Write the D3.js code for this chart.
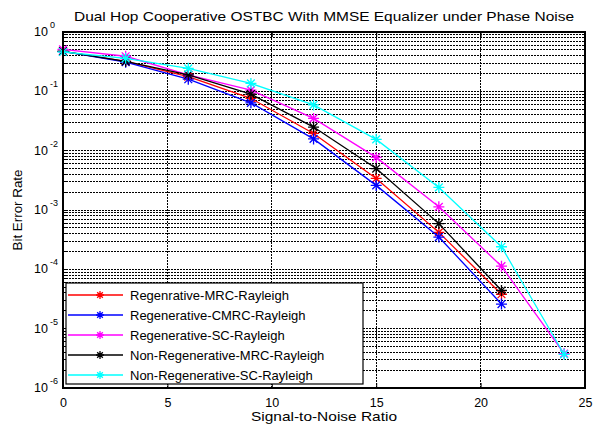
<!DOCTYPE html>
<html>
<head>
<meta charset="utf-8">
<script src="https://cdn.jsdelivr.net/npm/d3@7"></script>
<style>
  html, body { margin: 0; padding: 0; background: #fff; }
  svg { display: block; font-family: Arial, "Liberation Sans", sans-serif; }
</style>
</head>
<body>
<svg id="chart" width="595" height="427"></svg>
<script>
// ---- data ----
const title = "Dual Hop Cooperative OSTBC With MMSE Equalizer under Phase Noise";
const xLabel = "Signal-to-Noise Ratio";
const yLabel = "Bit Error Rate";
const xTicks = [0, 5, 10, 15, 20, 25];
const yExponents = [0, -1, -2, -3, -4, -5, -6];

const snr = [0, 3, 6, 9, 12, 15, 18, 21];
const snrSC = [0, 3, 6, 9, 12, 15, 18, 21, 24];

const regMRC    = [0.47, 0.32, 0.177, 0.076, 0.0195, 0.0034, 0.00042, 3.8e-5];
const regCMRC   = [0.47, 0.31, 0.160, 0.064, 0.0158, 0.0026, 0.00035, 2.6e-5];
const regSC     = [0.51, 0.39, 0.190, 0.105, 0.035, 0.0077, 0.00113, 0.000113, 3.8e-6];
const nonRegMRC = [0.47, 0.32, 0.190, 0.090, 0.025, 0.0050, 0.00059, 4.4e-5];
const nonRegSC  = [0.46, 0.36, 0.244, 0.136, 0.059, 0.0155, 0.0024, 0.00024, 3.7e-6];

const seriesNames = [
  "Regenrative-MRC-Rayleigh",
  "Regenerative-CMRC-Rayleigh",
  "Regenerative-SC-Rayleigh",
  "Non-Regenerative-MRC-Rayleigh",
  "Non-Regenerative-SC-Rayleigh"
];
const seriesColors = ["#ff0000", "#0000ff", "#ff00ff", "#000000", "#00ffff"];
const seriesX = [snr, snr, snrSC, snr, snrSC];
const seriesY = [regMRC, regCMRC, regSC, nonRegMRC, nonRegSC];

// ---- layout ----
const L = 63, R = 585, T = 32, B = 388;
const svg = d3.select("#chart");

const x = d3.scaleLinear().domain([0, 25]).range([L, R]);
const y = d3.scaleLog().domain([1e-6, 1]).range([B, T]);

// grid
const grid = svg.append("g");
const minorVals = [];
for (let e = -6; e < 0; e++) {
  for (let m = 1; m <= 9; m++) minorVals.push(m * Math.pow(10, e));
}
minorVals.push(1);
grid.selectAll("line.h").data(minorVals.filter(v => v > 1e-6 && v < 1)).enter()
  .append("line")
  .attr("x1", L).attr("x2", R)
  .attr("y1", d => y(d)).attr("y2", d => y(d))
  .attr("stroke", "#000").attr("stroke-width", 1)
  .attr("stroke-dasharray", "2,1")
  .attr("shape-rendering", "crispEdges");
grid.selectAll("line.v").data(xTicks.filter(v => v > 0 && v < 25)).enter()
  .append("line")
  .attr("y1", T).attr("y2", B)
  .attr("x1", d => x(d)).attr("x2", d => x(d))
  .attr("stroke", "#000").attr("stroke-width", 1)
  .attr("stroke-dasharray", "2,1")
  .attr("shape-rendering", "crispEdges");

// axes with inward ticks
const axB = d3.axisBottom(x).tickValues(xTicks).tickSize(-5).tickPadding(10).tickFormat(d3.format("d"));
const gB = svg.append("g").attr("transform", `translate(0,${B})`).call(axB);
gB.select(".domain").remove();
gB.selectAll("text").attr("font-size", 12.5).attr("font-family", "Arial, 'Liberation Sans', sans-serif").attr("fill", "#000");

const axT = d3.axisTop(x).tickValues(xTicks).tickSize(-5).tickFormat("");
const gT = svg.append("g").attr("transform", `translate(0,${T})`).call(axT);
gT.select(".domain").remove();

const majorVals = yExponents.map(e => Math.pow(10, e));
const minorOnly = minorVals.filter(v => !majorVals.some(m => Math.abs(Math.log10(v) - Math.log10(m)) < 1e-9));

[[L, 1], [R, -1]].forEach(([px, dir]) => {
  const g = svg.append("g");
  g.selectAll("line.maj").data(majorVals).enter().append("line")
    .attr("x1", px).attr("x2", px + dir * 5)
    .attr("y1", d => y(d)).attr("y2", d => y(d))
    .attr("stroke", "#000").attr("shape-rendering", "crispEdges");
  g.selectAll("line.min").data(minorOnly).enter().append("line")
    .attr("x1", px).attr("x2", px + dir * 3)
    .attr("y1", d => y(d)).attr("y2", d => y(d))
    .attr("stroke", "#000").attr("shape-rendering", "crispEdges");
});

// y tick labels 10^e
const yl = svg.append("g");
yExponents.forEach(e => {
  yl.append("text")
    .attr("x", 48).attr("y", y(Math.pow(10, e)) + 4)
    .attr("text-anchor", "end").attr("font-size", 12.5).attr("fill", "#000")
    .text("10");
  yl.append("text")
    .attr("x", 50).attr("y", y(Math.pow(10, e)) - 4)
    .attr("text-anchor", "start").attr("font-size", 9).attr("fill", "#000")
    .text(e === 0 ? "0" : String(e));
});

// series lines and markers
const line = d3.line().x(d => x(d[0])).y(d => y(d[1]));
function asterisk(g, cx, cy, s, color) {
  const d = s * 0.7071;
  const p = `M${cx - s},${cy}L${cx + s},${cy}M${cx},${cy - s}L${cx},${cy + s}` +
            `M${cx - d},${cy - d}L${cx + d},${cy + d}M${cx - d},${cy + d}L${cx + d},${cy - d}`;
  g.append("path").attr("d", p).attr("stroke", color).attr("stroke-width", 1.3).attr("fill", "none");
}
const plot = svg.append("g");
seriesNames.forEach((name, i) => {
  const pts = seriesX[i].map((xv, j) => [xv, seriesY[i][j]]);
  plot.append("path").datum(pts)
    .attr("d", line).attr("fill", "none")
    .attr("stroke", seriesColors[i]).attr("stroke-width", 1.3);
  pts.forEach(p => asterisk(plot, x(p[0]), y(p[1]), 5.5, seriesColors[i]));
});

// axes box
svg.append("rect").attr("x", L).attr("y", T).attr("width", R - L).attr("height", B - T)
  .attr("fill", "none").attr("stroke", "#000").attr("stroke-width", 2);

// legend
const lg = svg.append("g");
const lgX = 66, lgY = 283, lgW = 297, lgH = 101;
lg.append("rect").attr("x", lgX).attr("y", lgY).attr("width", lgW).attr("height", lgH)
  .attr("fill", "#fff").attr("stroke", "#000").attr("stroke-width", 1.2);
seriesNames.forEach((name, i) => {
  const cy = lgY + 12 + i * 20;
  lg.append("line").attr("x1", 68).attr("x2", 123).attr("y1", cy).attr("y2", cy)
    .attr("stroke", seriesColors[i]).attr("stroke-width", 1.3);
  asterisk(lg, 100, cy, 4, seriesColors[i]);
  lg.append("text").attr("x", 130).attr("y", cy + 5)
    .attr("font-size", 13).attr("fill", "#000").text(name);
});

// title and labels
svg.append("text").attr("x", (L + R) / 2).attr("y", 21)
  .attr("text-anchor", "middle").attr("font-size", 13).attr("fill", "#000")
  .attr("textLength", 500).attr("lengthAdjust", "spacingAndGlyphs").text(title);
svg.append("text").attr("x", (L + R) / 2).attr("y", 421)
  .attr("text-anchor", "middle").attr("font-size", 13).attr("fill", "#000")
  .attr("textLength", 146).attr("lengthAdjust", "spacingAndGlyphs").text(xLabel);
svg.append("text").attr("transform", `translate(22,${(T + B) / 2}) rotate(-90)`)
  .attr("text-anchor", "middle").attr("font-size", 12.5).attr("fill", "#000")
  .attr("textLength", 81).attr("lengthAdjust", "spacingAndGlyphs").text(yLabel);
</script>
</body>
</html>
